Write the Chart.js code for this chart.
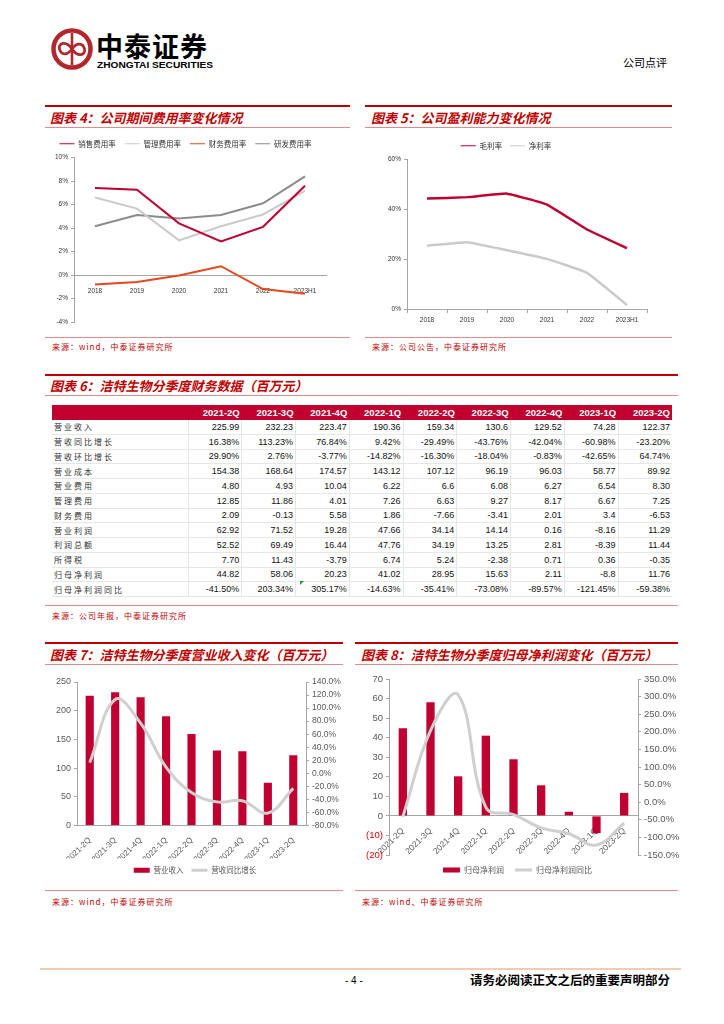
<!DOCTYPE html>
<html lang="zh-CN">
<head>
<meta charset="utf-8">
<title>洁特生物 公司点评</title>
<script src="https://cdn.jsdelivr.net/npm/chart.js@4.4.1/dist/chart.umd.min.js"></script>
<style>
  body { margin:0; background:#fff; }
  #page { position:relative; width:724px; height:1024px; overflow:hidden; font-family:"Noto Sans CJK SC", sans-serif; color:#000; }
  .ln { position:absolute; }
  .thick { height:2px; background:#C00000; }
  .thin { height:1px; background:#E58A8A; }
  .title { position:absolute; color:#C00000; font-size:13px; font-weight:bold; font-style:italic; line-height:16px; white-space:nowrap; }
  .src { position:absolute; color:#C00000; font-size:8px; letter-spacing:1px; line-height:10px; white-space:nowrap; }
  .box { position:absolute; }
  #tbl { position:absolute; left:52px; top:405px; width:620px; border-collapse:collapse; table-layout:fixed; }
  #tbl th { background:#C0002F; color:#fff; font:bold 9.5px "Liberation Sans", Arial, sans-serif; height:15px; padding:0 2px 0 0; text-align:right; }
  #tbl td { height:13.75px; border-bottom:1px solid #E6E6E6; border-right:1px solid #E6E6E6; padding:0 2px 0 0; text-align:right; font:9px "Liberation Sans", Arial, sans-serif; color:#111; }
  #tbl td.lab { text-align:left; padding-left:2px; font:8px "Noto Sans CJK SC", sans-serif; letter-spacing:2px; color:#333; }
  #tbl td:last-child { border-right:none; }
</style>
</head>
<body>
<div id="page">
  <!-- header -->
  <svg class="box" style="left:50px;top:27px" width="46" height="46" viewBox="0 0 46 46">
    <circle cx="22" cy="22" r="18.5" fill="none" stroke="#B3262C" stroke-width="4.5"/>
    <line x1="22" y1="6" x2="22" y2="38" stroke="#B3262C" stroke-width="2.6"/>
    <path d="M22 22 C16 13, 8 16, 9.5 22 C11 28, 17 29, 22 22 C27 15, 33 16, 34.5 22 C36 28, 28 31, 22 22" fill="none" stroke="#B3262C" stroke-width="2.8"/>
  </svg>
  <div class="box" style="left:96px;top:29px;font-size:27px;font-weight:bold;line-height:34px;letter-spacing:1px;">中泰证券</div>
  <svg class="box" style="left:97px;top:59px" width="120" height="12">
    <text x="0" y="9" textLength="116" lengthAdjust="spacingAndGlyphs" font-family="Liberation Sans, Arial" font-weight="bold" font-size="8.5">ZHONGTAI SECURITIES</text>
  </svg>
  <div class="box" style="left:623px;top:55px;font-size:11px;line-height:14px;">公司点评</div>

  <!-- chart 4 / 5 frames -->
  <div class="ln thick" style="left:45px;top:105px;width:305px"></div>
  <div class="title" style="left:50px;top:110px">图表 4：公司期间费用率变化情况</div>
  <div class="ln thin" style="left:45px;top:127px;width:305px"></div>
  <div class="ln thin" style="left:45px;top:337px;width:305px"></div>
  <div class="src" style="left:52px;top:342px">来源：wind，中泰证券研究所</div>

  <div class="ln thick" style="left:365px;top:105px;width:307px"></div>
  <div class="title" style="left:371px;top:110px">图表 5：公司盈利能力变化情况</div>
  <div class="ln thin" style="left:365px;top:127px;width:307px"></div>
  <div class="ln thin" style="left:365px;top:337px;width:307px"></div>
  <div class="src" style="left:372px;top:342px">来源：公司公告，中泰证券研究所</div>

  <div class="box" style="left:45px;top:131px;width:300px;height:199px"><canvas id="c4"></canvas></div>
  <div class="box" style="left:365px;top:134px;width:305px;height:195px"><canvas id="c5"></canvas></div>

  <!-- table -->
  <div class="ln thick" style="left:45px;top:374px;width:633px"></div>
  <div class="title" style="left:50px;top:378px">图表 6：洁特生物分季度财务数据（百万元）</div>
  <div class="ln thin" style="left:45px;top:395px;width:633px"></div>
  <table id="tbl"></table>
  <div class="box" style="left:300px;top:581px;width:0;height:0;border-top:4px solid #1E9E3A;border-right:4px solid transparent;"></div>
  <div class="ln thin" style="left:45px;top:605px;width:633px"></div>
  <div class="src" style="left:52px;top:611px">来源：公司年报，中泰证券研究所</div>

  <!-- chart 7 / 8 frames -->
  <div class="ln thick" style="left:45px;top:642px;width:298px"></div>
  <div class="title" style="left:50px;top:647px">图表 7：洁特生物分季度营业收入变化（百万元）</div>
  <div class="ln thin" style="left:45px;top:664px;width:298px"></div>
  <div class="ln thin" style="left:45px;top:890px;width:298px"></div>
  <div class="src" style="left:52px;top:897px">来源：wind，中泰证券研究所</div>

  <div class="ln thick" style="left:355px;top:642px;width:323px"></div>
  <div class="title" style="left:361px;top:647px">图表 8：洁特生物分季度归母净利润变化（百万元）</div>
  <div class="ln thin" style="left:355px;top:664px;width:323px"></div>
  <div class="ln thin" style="left:355px;top:890px;width:323px"></div>
  <div class="src" style="left:362px;top:897px">来源：wind、中泰证券研究所</div>

  <div class="box" style="left:45px;top:670px;width:300px;height:214px"><canvas id="c7"></canvas></div>
  <div class="box" style="left:355px;top:667px;width:325px;height:217px"><canvas id="c8"></canvas></div>

  <!-- footer -->
  <div class="ln" style="left:40px;top:968px;width:641px;height:2px;background:#F3CBB3"></div>
  <div class="box" style="left:345px;top:974px;font:10px 'Liberation Sans', Arial;line-height:14px;">- 4 -</div>
  <div class="box" style="left:470px;top:972px;font-size:12.5px;font-weight:bold;line-height:16px;">请务必阅读正文之后的重要声明部分</div>
</div>

<script>
const LAT = '"Liberation Sans", Arial, sans-serif';
const CJK = '"Noto Sans CJK SC", sans-serif';
const axisGray = '#A6A6A6';
const red = '#C00030';

// 图表4 期间费用率 (%)
const years = ['2018', '2019', '2020', '2021', '2022', '2023H1'];
const salesRate = [7.4, 7.25, 4.4, 2.85, 4.1, 7.6];
const mgmtRate = [6.6, 5.65, 2.95, 4.15, 5.15, 7.15];
const finRate = [-0.8, -0.6, -0.05, 0.75, -1.2, -1.6];
const rdRate = [4.15, 5.1, 4.8, 5.1, 6.1, 8.4];

// 图表5 盈利能力 (%)
const grossMargin = [44.3, 44.9, 46.3, 41.9, 31.9, 24.4];
const netMargin = [25.4, 26.8, 23.6, 20.1, 14.5, 1.6];

// 图表6 分季度财务数据
const quarters = ['2021-2Q', '2021-3Q', '2021-4Q', '2022-1Q', '2022-2Q', '2022-3Q', '2022-4Q', '2023-1Q', '2023-2Q'];
const rowRevenue = ['225.99', '232.23', '223.47', '190.36', '159.34', '130.6', '129.52', '74.28', '122.37'];
const rowRevenueYoY = ['16.38%', '113.23%', '76.84%', '9.42%', '-29.49%', '-43.76%', '-42.04%', '-60.98%', '-23.20%'];
const rowRevenueQoQ = ['29.90%', '2.76%', '-3.77%', '-14.82%', '-16.30%', '-18.04%', '-0.83%', '-42.65%', '64.74%'];
const rowCost = ['154.38', '168.64', '174.57', '143.12', '107.12', '96.19', '96.03', '58.77', '89.92'];
const rowSellExp = ['4.80', '4.93', '10.04', '6.22', '6.6', '6.08', '6.27', '6.54', '8.30'];
const rowAdminExp = ['12.85', '11.86', '4.01', '7.26', '6.63', '9.27', '8.17', '6.67', '7.25'];
const rowFinExp = ['2.09', '-0.13', '5.58', '1.86', '-7.66', '-3.41', '2.01', '3.4', '-6.53'];
const rowOpProfit = ['62.92', '71.52', '19.28', '47.66', '34.14', '14.14', '0.16', '-8.16', '11.29'];
const rowTotalProfit = ['52.52', '69.49', '16.44', '47.76', '34.19', '13.25', '2.81', '-8.39', '11.44'];
const rowIncomeTax = ['7.70', '11.43', '-3.79', '6.74', '5.24', '-2.38', '0.71', '0.36', '-0.35'];
const rowNetProfit = ['44.82', '58.06', '20.23', '41.02', '28.95', '15.63', '2.11', '-8.8', '11.76'];
const rowNetProfitYoY = ['-41.50%', '203.34%', '305.17%', '-14.63%', '-35.41%', '-73.08%', '-89.57%', '-121.45%', '-59.38%'];

const tableRows = [
  ['营业收入', rowRevenue], ['营收同比增长', rowRevenueYoY], ['营收环比增长', rowRevenueQoQ],
  ['营业成本', rowCost], ['营业费用', rowSellExp], ['管理费用', rowAdminExp], ['财务费用', rowFinExp],
  ['营业利润', rowOpProfit], ['利润总额', rowTotalProfit], ['所得税', rowIncomeTax],
  ['归母净利润', rowNetProfit], ['归母净利润同比', rowNetProfitYoY]
];

// 图表7 / 图表8 series (from the table)
const revenue = rowRevenue.map(parseFloat);
const revenueYoY = rowRevenueYoY.map(parseFloat);
const netProfit = rowNetProfit.map(parseFloat);
const netProfitYoY = rowNetProfitYoY.map(parseFloat);

// build table
const tbl = document.getElementById('tbl');
let html = '<colgroup><col style="width:136px">' + quarters.map(() => '<col>').join('') + '</colgroup>';
html += '<tr><th></th>' + quarters.map(q => '<th>' + q + '</th>').join('') + '</tr>';
tableRows.forEach(r => {
  html += '<tr><td class="lab">' + r[0] + '</td>' + r[1].map(v => '<td>' + v + '</td>').join('') + '</tr>';
});
tbl.innerHTML = html;

Chart.defaults.font.family = LAT;
Chart.defaults.animation = false;
Chart.defaults.plugins.tooltip.enabled = false;

const yTickGrid = { drawOnChartArea: false, tickLength: 3, color: axisGray };

// 图表4
new Chart(document.getElementById('c4'), {
  type: 'line',
  data: {
    labels: years,
    datasets: [
      { label: '销售费用率', data: salesRate, borderColor: red, backgroundColor: red },
      { label: '管理费用率', data: mgmtRate, borderColor: '#CACACA', backgroundColor: '#CACACA' },
      { label: '财务费用率', data: finRate, borderColor: '#E8461E', backgroundColor: '#E8461E' },
      { label: '研发费用率', data: rdRate, borderColor: '#8C8C8C', backgroundColor: '#8C8C8C' }
    ]
  },
  options: {
    responsive: true, maintainAspectRatio: false,
    layout: { padding: { left: 0, right: 19, top: 0, bottom: 8 } },
    elements: { point: { radius: 0 }, line: { borderWidth: 2, tension: 0 } },
    plugins: {
      legend: { position: 'top', labels: { usePointStyle: true, pointStyle: 'line', pointStyleWidth: 15, padding: 9, color: '#333', font: { size: 7.5, family: CJK } } }
    },
    scales: {
      x: { offset: true, position: { y: 0 }, grid: { display: false }, border: { color: axisGray },
           ticks: { font: { size: 6.5 }, color: '#333', padding: 4 } },
      y: { min: -4, max: 10, grid: yTickGrid, border: { color: axisGray },
           ticks: { stepSize: 2, callback: v => v + '%', font: { size: 6.5 }, color: '#333', padding: 3 },
           afterFit: s => { s.width = 29; } }
    }
  }
});

// 图表5
new Chart(document.getElementById('c5'), {
  type: 'line',
  data: {
    labels: years,
    datasets: [
      { label: '毛利率', data: grossMargin, borderColor: red, backgroundColor: red },
      { label: '净利率', data: netMargin, borderColor: '#CACACA', backgroundColor: '#CACACA' }
    ]
  },
  options: {
    responsive: true, maintainAspectRatio: false,
    layout: { padding: { left: 0, right: 23, top: 0, bottom: 4 } },
    elements: { point: { radius: 0 }, line: { borderWidth: 2.5, tension: 0.1 } },
    plugins: {
      legend: { position: 'top', labels: { usePointStyle: true, pointStyle: 'line', pointStyleWidth: 15, padding: 8, color: '#333', font: { size: 7.5, family: CJK } } }
    },
    scales: {
      x: { offset: true, grid: { drawOnChartArea: false, offset: true, tickLength: 4, color: axisGray }, border: { color: axisGray },
           ticks: { font: { size: 6.5 }, color: '#333', padding: 3 },
           afterFit: s => { s.height = 16; } },
      y: { min: 0, max: 60, grid: yTickGrid, border: { color: axisGray },
           ticks: { stepSize: 20, callback: v => v + '%', font: { size: 6.5 }, color: '#333', padding: 3 },
           afterFit: s => { s.width = 42; } }
    }
  }
});

// 图表7
new Chart(document.getElementById('c7'), {
  type: 'bar',
  data: {
    labels: quarters,
    datasets: [
      { type: 'line', label: '营收同比增长', data: revenueYoY, yAxisID: 'y1', order: 0,
        borderColor: '#CFCFCF', backgroundColor: '#CFCFCF', borderWidth: 3, pointRadius: 0, tension: 0.4, pointStyle: 'line' },
      { label: '营业收入', data: revenue, yAxisID: 'y', order: 1, backgroundColor: red,
        categoryPercentage: 1, barPercentage: 0.32, pointStyle: 'rect' }
    ]
  },
  options: {
    responsive: true, maintainAspectRatio: false,
    layout: { padding: { left: 0, right: 0, top: 12, bottom: 0 } },
    plugins: {
      legend: { position: 'bottom', reverse: true,
        labels: { usePointStyle: true, pointStyleWidth: 16, boxHeight: 5, padding: 8, color: '#595959', font: { size: 7.5, family: CJK } } }
    },
    scales: {
      x: { grid: { display: false }, border: { color: axisGray },
           ticks: { minRotation: 45, maxRotation: 45, font: { size: 8 }, color: '#595959', padding: 2 },
           afterFit: s => { s.height = 33; } },
      y: { position: 'left', min: 0, max: 250, grid: yTickGrid, border: { color: axisGray },
           ticks: { stepSize: 50, font: { size: 9 }, color: '#595959', padding: 3 },
           afterFit: s => { s.width = 32; } },
      y1: { position: 'right', min: -80, max: 140, grid: yTickGrid, border: { color: axisGray },
           ticks: { stepSize: 20, autoSkip: false, callback: v => v.toFixed(1) + '%', font: { size: 8.5 }, color: '#595959', padding: 3 },
           afterFit: s => { s.width = 39; } }
    }
  }
});

// 图表8
new Chart(document.getElementById('c8'), {
  type: 'bar',
  data: {
    labels: quarters,
    datasets: [
      { type: 'line', label: '归母净利润同比', data: netProfitYoY, yAxisID: 'y1', order: 0,
        borderColor: '#CFCFCF', backgroundColor: '#CFCFCF', borderWidth: 3, pointRadius: 0, tension: 0.4, pointStyle: 'line' },
      { label: '归母净利润', data: netProfit, yAxisID: 'y', order: 1, backgroundColor: red,
        categoryPercentage: 1, barPercentage: 0.3, pointStyle: 'rect' }
    ]
  },
  options: {
    responsive: true, maintainAspectRatio: false,
    layout: { padding: { left: 0, right: 0, top: 12, bottom: 0 } },
    plugins: {
      legend: { position: 'bottom', reverse: true,
        labels: { usePointStyle: true, pointStyleWidth: 17, boxHeight: 5, padding: 11, color: '#595959', font: { size: 8, family: CJK } } }
    },
    scales: {
      x: { position: { y: 0 }, grid: { display: false }, border: { color: axisGray },
           ticks: { minRotation: 45, maxRotation: 45, font: { size: 8.5 }, color: '#595959', padding: 2 } },
      y: { position: 'left', min: -20, max: 70, grid: yTickGrid, border: { color: axisGray },
           ticks: { stepSize: 10, autoSkip: false, callback: v => v < 0 ? '(' + (-v) + ')' : v,
                    color: c => (c.tick && c.tick.value < 0) ? '#E00000' : '#595959', font: { size: 9.5 }, padding: 3 },
           afterFit: s => { s.width = 34; } },
      y1: { position: 'right', min: -150, max: 350, grid: yTickGrid, border: { color: axisGray },
           ticks: { stepSize: 50, autoSkip: false, callback: v => v.toFixed(1) + '%', font: { size: 9.5 }, color: '#595959', padding: 3 },
           afterFit: s => { s.width = 42; } }
    }
  }
});
</script>
</body>
</html>
